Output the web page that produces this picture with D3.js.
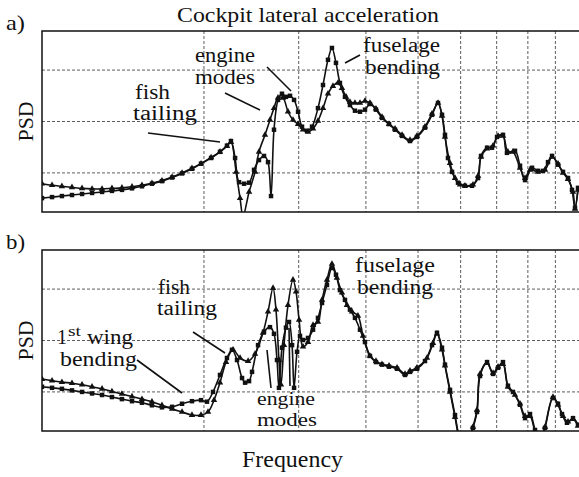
<!DOCTYPE html>
<html>
<head>
<meta charset="utf-8">
<script src="https://cdn.jsdelivr.net/npm/d3@7"></script>
<style>
  html, body { margin: 0; padding: 0; background: #fff; }
  #viz { width: 579px; height: 477px; }
  svg text { font-family: "Liberation Serif", "DejaVu Serif", serif; fill: #111; }
</style>
</head>
<body>
<div id="viz"></div>
<script>
// frequency (Hz, log axis) / PSD (dB) pairs
const aSquare = [[1.000,-4.9],[1.044,-4.7],[1.089,-4.5],[1.137,-4.3],[1.187,-4.1],[1.239,-3.9],[1.293,-3.7],[1.349,-3.5],[1.408,-3.3],[1.470,-3.0],[1.534,-2.6],[1.601,-2.1],[1.671,-1.6],[1.745,-0.9],[1.821,-0.1],[1.900,0.8],[1.975,1.8],[2.062,2.9],[2.142,4.1],[2.207,5.3],[2.245,6.2],[2.285,2.9],[2.324,-1.8],[2.375,-2.1],[2.426,-1.9],[2.478,0.6],[2.531,2.5],[2.586,3.3],[2.631,2.1],[2.665,-4.5],[2.699,8.4],[2.746,14.2],[2.793,15.4],[2.841,14.8],[2.891,15.0],[2.941,14.2],[2.992,11.9],[3.043,9.0],[3.109,8.2],[3.176,9.0],[3.258,12.6],[3.329,17.1],[3.401,22.0],[3.459,24.3],[3.519,21.4],[3.579,17.5],[3.657,14.8],[3.736,13.2],[3.817,12.1],[3.900,11.9],[3.984,12.3],[4.070,13.4],[4.176,12.3],[4.285,10.7],[4.416,9.5],[4.531,8.4],[4.669,7.2],[4.831,6.2],[4.977,7.0],[5.151,8.8],[5.308,11.3],[5.446,13.6],[5.540,11.3],[5.611,7.4],[5.683,2.9],[5.782,0.2],[5.932,-1.9],[6.112,-2.5],[6.299,-2.5],[6.463,-1.0],[6.547,3.3],[6.718,4.9],[6.863,4.9],[7.011,7.0],[7.192,7.4],[7.315,3.9],[7.571,4.3],[7.736,1.4],[7.904,-1.4],[8.144,1.0],[8.355,0.4],[8.536,0.4],[8.720,2.1],[8.872,3.3],[9.102,1.6],[9.299,0.2],[9.500,-1.0],[9.663,-3.3],[9.788,-6.8],[9.915,-2.9]];
const aTriangle = [[1.000,-2.1],[1.044,-2.4],[1.089,-2.6],[1.137,-2.8],[1.187,-3.0],[1.239,-3.1],[1.293,-3.1],[1.349,-3.0],[1.408,-2.9],[1.470,-2.7],[1.534,-2.4],[1.601,-2.0],[1.671,-1.5],[1.745,-0.8],[1.821,0.0],[1.900,0.9],[1.975,1.8],[2.062,3.0],[2.142,4.1],[2.207,5.2],[2.245,6.0],[2.295,0.2],[2.334,-4.9],[2.364,-8.4],[2.426,-3.7],[2.489,0.2],[2.531,4.1],[2.597,7.4],[2.653,10.3],[2.699,12.6],[2.746,14.6],[2.805,14.6],[2.866,11.9],[2.928,10.3],[2.992,9.5],[3.056,8.4],[3.122,8.0],[3.190,8.6],[3.258,10.1],[3.329,12.6],[3.401,15.4],[3.474,16.9],[3.549,17.5],[3.610,16.5],[3.673,14.8],[3.736,13.8],[3.817,13.6],[3.900,13.6],[3.984,14.0],[4.070,13.6],[4.176,12.5],[4.285,10.9],[4.416,9.5],[4.531,8.6],[4.669,7.4],[4.831,6.4],[4.977,7.2],[5.151,9.0],[5.308,11.5],[5.446,13.6],[5.540,11.1],[5.611,7.0],[5.733,1.9],[5.857,-1.0],[5.984,-2.3],[6.112,-2.5],[6.325,-2.3],[6.463,-0.6],[6.547,3.1],[6.718,4.7],[6.893,5.3],[7.042,7.2],[7.192,7.2],[7.347,4.1],[7.506,4.1],[7.736,1.0],[7.904,-1.0],[8.074,0.6],[8.355,0.2],[8.609,0.6],[8.872,3.1],[9.102,1.8],[9.299,0.0],[9.500,-1.2],[9.705,-3.7],[9.788,-7.0],[9.915,-3.3]];
const bSquare = [[1.000,1.0],[1.044,0.8],[1.089,0.6],[1.137,0.3],[1.187,0.0],[1.239,-0.3],[1.293,-0.6],[1.349,-1.0],[1.408,-1.4],[1.470,-1.8],[1.534,-2.1],[1.601,-2.6],[1.671,-3.0],[1.745,-2.9],[1.821,-2.3],[1.900,-1.8],[1.975,-1.6],[2.026,-1.9],[2.079,0.0],[2.142,3.3],[2.207,6.6],[2.255,8.2],[2.304,6.2],[2.354,2.7],[2.385,1.8],[2.426,2.1],[2.457,3.9],[2.521,9.1],[2.586,11.7],[2.653,12.6],[2.699,11.3],[2.734,6.2],[2.757,0.8],[2.793,8.6],[2.841,12.5],[2.878,13.6],[2.916,9.1],[2.941,0.8],[2.979,7.8],[3.017,10.9],[3.056,10.1],[3.122,10.5],[3.190,12.1],[3.258,14.4],[3.315,17.3],[3.386,20.8],[3.459,24.1],[3.519,22.8],[3.579,19.8],[3.657,17.9],[3.736,16.0],[3.817,14.4],[3.900,12.1],[3.984,9.7],[4.070,7.0],[4.176,5.8],[4.285,5.3],[4.416,4.9],[4.570,4.5],[4.729,3.3],[4.831,3.9],[4.977,4.5],[5.151,6.0],[5.308,9.1],[5.422,11.5],[5.540,8.6],[5.611,5.3],[5.733,0.4],[5.857,-4.5],[5.984,-9.3],[6.112,-11.3],[6.325,-7.0],[6.435,-3.9],[6.519,3.1],[6.718,5.8],[6.893,3.5],[7.042,4.7],[7.192,5.8],[7.347,1.2],[7.506,0.0],[7.736,-2.5],[7.904,-5.1],[8.074,-4.3],[8.248,-7.4],[8.428,-10.3],[8.609,-7.0],[8.909,-1.2],[9.102,-2.3],[9.259,-4.3],[9.458,-6.0],[9.705,-5.1],[9.915,-6.4]];
const bTriangle = [[1.000,2.5],[1.044,2.2],[1.089,1.9],[1.137,1.7],[1.187,1.4],[1.239,1.0],[1.293,0.6],[1.349,0.1],[1.408,-0.4],[1.470,-0.9],[1.534,-1.4],[1.601,-1.9],[1.671,-2.6],[1.745,-3.3],[1.821,-3.9],[1.900,-4.5],[1.975,-4.5],[2.035,-3.9],[2.088,-1.6],[2.142,1.8],[2.198,5.8],[2.265,8.2],[2.334,6.6],[2.416,6.0],[2.489,7.4],[2.575,11.5],[2.631,15.6],[2.688,20.2],[2.722,16.0],[2.757,6.2],[2.781,1.4],[2.817,9.1],[2.866,16.9],[2.928,21.8],[2.966,19.5],[3.005,14.0],[3.056,8.8],[3.122,9.7],[3.190,13.0],[3.258,13.6],[3.315,17.9],[3.386,21.8],[3.459,24.9],[3.533,22.2],[3.610,19.3],[3.688,16.9],[3.769,15.6],[3.866,14.8],[3.950,10.9],[4.070,7.0],[4.176,6.0],[4.285,5.4],[4.416,5.1],[4.570,4.7],[4.729,3.5],[4.831,4.1],[4.977,4.7],[5.195,6.6],[5.330,9.5],[5.422,11.3],[5.540,8.2],[5.611,5.1],[5.733,0.0],[5.857,-4.9],[5.984,-9.7],[6.112,-11.3],[6.325,-6.8],[6.435,-3.5],[6.519,3.5],[6.718,5.6],[6.893,3.7],[7.042,4.9],[7.192,5.4],[7.347,1.0],[7.571,-0.6],[7.736,-2.3],[7.904,-4.7],[8.074,-4.7],[8.248,-7.8],[8.428,-10.3],[8.609,-6.8],[8.909,-1.0],[9.102,-2.5],[9.299,-4.7],[9.500,-5.8],[9.705,-5.3],[9.915,-6.6]];

const freqGrid = [2, 3, 4, 5, 6, 7, 8, 9];
const psdGrid = [0, 10, 20];
const freqDomain = [1, 10];
const psdDomain = [-7.6, 27.6];

const FONT = "Liberation Serif, DejaVu Serif, serif";

const svg = d3.select("#viz").append("svg")
    .attr("width", 579)
    .attr("height", 477)
    .attr("font-family", FONT);

const left = 42, right = 580;
const x = d3.scaleLog().domain(freqDomain).range([left, right]);

// text helper: width, squeezed/stretched to fit
function label(parent, txt, px, py, size, width, anchor) {
    const t = parent.append("text")
        .attr("x", px).attr("y", py)
        .attr("font-family", FONT)
        .attr("font-size", size)
        .attr("text-anchor", anchor || "start")
        .text(txt);
    if (width) t.attr("textLength", width).attr("lengthAdjust", "spacingAndGlyphs");
    return t;
}

function drawPanel(id, top, bottom, squares, triangles, letter, notes, leaders) {
    const y = d3.scaleLinear().domain(psdDomain).range([bottom, top]);
    const g = svg.append("g");

    g.append("clipPath").attr("id", "clip-" + id)
        .append("rect")
        .attr("x", left).attr("y", top)
        .attr("width", right - left).attr("height", bottom - top);

    // dotted grid
    g.append("g").selectAll("line")
        .data(freqGrid)
        .join("line")
        .attr("x1", d => x(d)).attr("x2", d => x(d))
        .attr("y1", top).attr("y2", bottom)
        .attr("stroke", "#333").attr("stroke-width", 0.8)
        .attr("stroke-dasharray", "3,2");
    g.append("g").selectAll("line")
        .data(psdGrid)
        .join("line")
        .attr("x1", left).attr("x2", right)
        .attr("y1", d => y(d)).attr("y2", d => y(d))
        .attr("stroke", "#333").attr("stroke-width", 0.8)
        .attr("stroke-dasharray", "3,2");

    const plot = g.append("g").attr("clip-path", `url(#clip-${id})`);
    const line = d3.line()
        .x(d => x(d[0]))
        .y(d => y(d[1]))
        .curve(d3.curveCatmullRom.alpha(0.5));

    [triangles, squares].forEach(series => {
        plot.append("path")
            .datum(series)
            .attr("fill", "none")
            .attr("stroke", "#111")
            .attr("stroke-width", 1.6)
            .attr("d", line);
    });

    plot.append("g").selectAll("path")
        .data(squares)
        .join("path")
        .attr("transform", d => `translate(${x(d[0])},${y(d[1])})`)
        .attr("d", d3.symbol(d3.symbolSquare, 20))
        .attr("fill", "#111");
    plot.append("g").selectAll("path")
        .data(triangles)
        .join("path")
        .attr("transform", d => `translate(${x(d[0])},${y(d[1])})`)
        .attr("d", d3.symbol(d3.symbolTriangle, 18))
        .attr("fill", "#111");

    // frame
    g.append("rect")
        .attr("x", left).attr("y", top)
        .attr("width", right - left).attr("height", bottom - top)
        .attr("fill", "none").attr("stroke", "#111").attr("stroke-width", 1.5);

    label(g, letter, 6, top - 1, 21, 19);

    label(g, "PSD", 0, 0, 22, 40, "middle")
        .attr("x", null).attr("y", null)
        .attr("transform", `translate(33,${(top + bottom) / 2}) rotate(-90)`);

    // annotation leaders
    g.append("g").selectAll("line")
        .data(leaders)
        .join("line")
        .attr("x1", d => d[0]).attr("y1", d => d[1])
        .attr("x2", d => d[2]).attr("y2", d => d[3])
        .attr("stroke", "#111").attr("stroke-width", 1.6);

    notes.forEach(n => {
        if (n.sup) {
            label(g, n.text, n.x, n.y, 21, 10);
            label(g, n.sup, n.x + 11, n.y - 8, 14, 13);
            label(g, n.rest, n.x + 30, n.y, 21, n.w);
        } else {
            label(g, n.text, n.x, n.y, n.size || 20, n.w);
        }
    });
}

label(svg, "Cockpit lateral acceleration", 177, 22, 22, 262);

drawPanel("a", 31, 212, aSquare, aTriangle, "a)",
    [
        { text: "fish", x: 135, y: 99, w: 35 },
        { text: "tailing", x: 133, y: 120, w: 64 },
        { text: "engine", x: 195, y: 62, w: 60 },
        { text: "modes", x: 195, y: 84, w: 60 },
        { text: "fuselage", x: 363, y: 52, w: 77 },
        { text: "bending", x: 365, y: 74, w: 75 }
    ],
    [[148, 133, 220, 142], [225, 93, 260, 110], [267, 67, 291, 91], [345, 63, 360, 55]]);

drawPanel("b", 250, 431, bSquare, bTriangle, "b)",
    [
        { text: "1", sup: "st", rest: "wing", x: 57, y: 344, w: 46 },
        { text: "bending", x: 60, y: 366, w: 77 },
        { text: "fish", x: 158, y: 294, w: 32 },
        { text: "tailing", x: 157, y: 315, w: 60 },
        { text: "engine", x: 257, y: 405, w: 58, size: 18 },
        { text: "modes", x: 257, y: 426, w: 60, size: 18 },
        { text: "fuselage", x: 355, y: 272, w: 80 },
        { text: "bending", x: 357, y: 294, w: 76 }
    ],
    [[137, 360, 182, 393], [193, 332, 225, 353], [267, 350, 271, 388], [289, 328, 290, 386]]);

label(svg, "Frequency", 242, 467, 23, 101);
</script>
</body>
</html>
